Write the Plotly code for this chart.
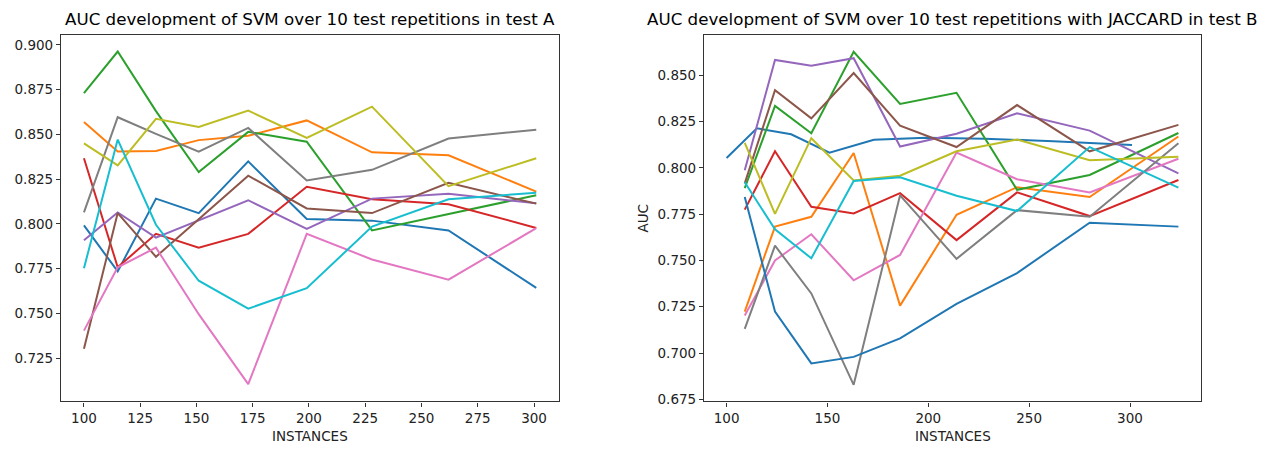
import plotly.graph_objects as go

# ---------------- data: test A ----------------
x_a = [100, 115, 132, 151, 173, 199, 228, 262, 301]
a_blue   = [0.7991, 0.7734, 0.8141, 0.8060, 0.8349, 0.8027, 0.8018, 0.7963, 0.7642]
a_orange = [0.8569, 0.8404, 0.8407, 0.8468, 0.8492, 0.8578, 0.8400, 0.8383, 0.8180]
a_green  = [0.8730, 0.8963, 0.8630, 0.8290, 0.8514, 0.8459, 0.7963, 0.8055, 0.8160]
a_red    = [0.8367, 0.7757, 0.7944, 0.7866, 0.7944, 0.8207, 0.8137, 0.8110, 0.7977]
a_purple = [0.7908, 0.8064, 0.7923, 0.8020, 0.8132, 0.7972, 0.8141, 0.8168, 0.8115]
a_brown  = [0.7302, 0.8060, 0.7816, 0.8026, 0.8269, 0.8086, 0.8060, 0.8229, 0.8113]
a_pink   = [0.7403, 0.7757, 0.7867, 0.7495, 0.7104, 0.7944, 0.7801, 0.7688, 0.7976]
a_gray   = [0.8064, 0.8596, 0.8503, 0.8404, 0.8536, 0.8242, 0.8302, 0.8477, 0.8526]
a_olive  = [0.8450, 0.8327, 0.8587, 0.8541, 0.8633, 0.8480, 0.8655, 0.8211, 0.8367]
a_cyan   = [0.7752, 0.8471, 0.7995, 0.7682, 0.7526, 0.7640, 0.7985, 0.8137, 0.8174]
series_a = [a_blue, a_orange, a_green, a_red, a_purple, a_brown, a_pink, a_gray, a_olive, a_cyan]

# ---------------- data: test B ----------------
x_b0 = [100, 115, 132, 151, 173, 199, 228, 262, 301]
b_first = [0.8054, 0.8214, 0.8182, 0.8083, 0.8152, 0.8163, 0.8158, 0.8145, 0.8124]
x_b = [109, 124, 142, 163, 186, 214, 244, 280, 324]
b_orange = [0.7224, 0.7683, 0.7736, 0.8081, 0.7256, 0.7747, 0.7896, 0.7843, 0.8170]
b_green  = [0.7891, 0.8335, 0.8188, 0.8628, 0.8346, 0.8406, 0.7882, 0.7962, 0.8189]
b_red    = [0.7775, 0.8090, 0.7790, 0.7754, 0.7864, 0.7610, 0.7868, 0.7740, 0.7935]
b_purple = [0.7988, 0.8584, 0.8552, 0.8593, 0.8116, 0.8185, 0.8296, 0.8202, 0.7971]
b_brown  = [0.7917, 0.8420, 0.8268, 0.8513, 0.8228, 0.8113, 0.8340, 0.8090, 0.8233]
b_pink   = [0.7203, 0.7500, 0.7642, 0.7393, 0.7530, 0.8083, 0.7939, 0.7868, 0.8050]
b_gray   = [0.7130, 0.7580, 0.7322, 0.6828, 0.7852, 0.7509, 0.7772, 0.7736, 0.8134]
b_olive  = [0.8136, 0.7752, 0.8161, 0.7932, 0.7958, 0.8090, 0.8154, 0.8042, 0.8060]
b_cyan   = [0.7923, 0.7668, 0.7512, 0.7930, 0.7950, 0.7850, 0.7767, 0.8113, 0.7894]
b_blue   = [0.7843, 0.7224, 0.6944, 0.6979, 0.7079, 0.7265, 0.7432, 0.7704, 0.7683]
series_b = [b_orange, b_green, b_red, b_purple, b_brown, b_pink, b_gray, b_olive, b_cyan, b_blue]

colors = ["#1f77b4", "#ff7f0e", "#2ca02c", "#d62728", "#9467bd",
          "#8c564b", "#e377c2", "#7f7f7f", "#bcbd22", "#17becf"]

title_a = "AUC development of SVM over 10 test repetitions in test A"
title_b = "AUC development of SVM over 10 test repetitions with JACCARD in test B"
xlabel = "INSTANCES"
ylabel = "AUC"

W, H = 1269, 450
FONT = "DejaVu Sans"

fig = go.Figure()
for i, ys in enumerate(series_a):
    fig.add_trace(go.Scatter(x=x_a, y=ys, mode="lines", xaxis="x", yaxis="y",
                             line=dict(color=colors[i % 10], width=2), showlegend=False))
fig.add_trace(go.Scatter(x=x_b0, y=b_first, mode="lines", xaxis="x2", yaxis="y2",
                         line=dict(color=colors[0], width=2), showlegend=False))
for i, ys in enumerate(series_b):
    fig.add_trace(go.Scatter(x=x_b, y=ys, mode="lines", xaxis="x2", yaxis="y2",
                             line=dict(color=colors[(i + 1) % 10], width=2), showlegend=False))

ydom = [1 - 406 / H, 1 - 35.5 / H]
dom_a = [61 / W, 559 / W]
dom_b = [704 / W, 1201 / W]

axis_common = dict(showline=True, mirror=True, linecolor="#333333", linewidth=1.2,
                   ticks="outside", ticklen=4, tickwidth=1, tickcolor="#333333",
                   showgrid=False, zeroline=False,
                   tickfont=dict(family=FONT, size=13.5, color="#222222"))

fig.update_layout(
    width=W, height=H,
    margin=dict(l=0, r=0, t=0, b=0),
    paper_bgcolor="white", plot_bgcolor="white",
    font=dict(family=FONT),
    xaxis=dict(domain=dom_a, anchor="y", range=[89.8, 311.1],
               tickvals=[100, 125, 150, 175, 200, 225, 250, 275, 300], **axis_common),
    yaxis=dict(domain=ydom, anchor="x", range=[0.7007, 0.9055],
               tickvals=[0.725, 0.75, 0.775, 0.8, 0.825, 0.85, 0.875, 0.9],
               tickformat=".3f", **axis_common),
    xaxis2=dict(domain=dom_b, anchor="y2", range=[88.8, 335.2],
                tickvals=[100, 150, 200, 250, 300], **axis_common),
    yaxis2=dict(domain=ydom, anchor="x2", range=[0.6738, 0.8718],
                tickvals=[0.675, 0.7, 0.725, 0.75, 0.775, 0.8, 0.825, 0.85],
                tickformat=".3f", **axis_common),
)

ann = []
ann.append(dict(text=title_a, x=(dom_a[0] + dom_a[1]) / 2, y=1 - 19 / H, xref="paper", yref="paper",
                showarrow=False, xanchor="center", yanchor="middle",
                font=dict(family=FONT, size=16.7, color="black")))
ann.append(dict(text=title_b, x=(dom_b[0] + dom_b[1]) / 2, y=1 - 19 / H, xref="paper", yref="paper",
                showarrow=False, xanchor="center", yanchor="middle",
                font=dict(family=FONT, size=16.7, color="black")))
for d in (dom_a, dom_b):
    ann.append(dict(text=xlabel, x=(d[0] + d[1]) / 2, y=1 - 441 / H, xref="paper", yref="paper",
                    showarrow=False, xanchor="center", yanchor="middle",
                    font=dict(family=FONT, size=13.5, color="#222222")))
ann.append(dict(text=ylabel, x=643 / W, y=1 - 220 / H, xref="paper", yref="paper", textangle=-90,
                showarrow=False, xanchor="center", yanchor="middle",
                font=dict(family=FONT, size=13.5, color="#222222")))
fig.update_layout(annotations=ann)

fig.write_html("out.html")
